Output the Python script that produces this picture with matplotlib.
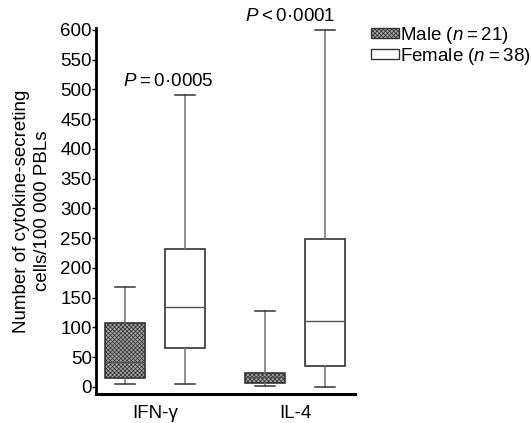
import matplotlib
matplotlib.use("Agg")
import matplotlib.pyplot as plt
from matplotlib.patches import Patch

plt.rcParams['font.family'] = ['Liberation Sans', 'DejaVu Sans']
plt.rcParams['mathtext.fontset'] = 'custom'
plt.rcParams['mathtext.rm'] = 'Liberation Sans'
plt.rcParams['mathtext.it'] = 'Liberation Sans:italic'
plt.rcParams['hatch.linewidth'] = 0.5

groups = ["IFN-γ", "IL-4"]
# whislo, q1, median, q3, whishi
male_ifn = [5, 15, 42, 108, 168]
female_ifn = [5, 66, 135, 232, 490]
male_il4 = [2, 7, 17, 23, 127]
female_il4 = [0, 35, 111, 248, 600]
pvalues = ["$\\it{P}$\u2009=\u20090·0005", "$\\it{P}$\u2009<\u20090·0001"]
legend_labels = ["Male ($\\it{n}$\u2009=\u200921)", "Female ($\\it{n}$\u2009=\u200938)"]
yticks = list(range(0, 601, 50))

FS = 13.5
fig = plt.figure(figsize=(5.31, 4.23), dpi=100)
ax = fig.add_axes([96/531, 1-394/423, (355-96)/531, (394-28)/423])

def stats(v):
    return dict(whislo=v[0], q1=v[1], med=v[2], q3=v[3], whishi=v[4], fliers=[])

pos_m = [1, 3.333]
pos_f = [2, 4.333]
w = 0.667
common = dict(showfliers=False, widths=w, patch_artist=True,
              whiskerprops=dict(color='#707070', lw=1.1),
              capprops=dict(color='#333333', lw=1.1),
              medianprops=dict(color='#555555', lw=1.0))
male_face = '#a0a0a0'
bm = ax.bxp([stats(male_ifn), stats(male_il4)], positions=pos_m,
            boxprops=dict(facecolor=male_face, edgecolor='#333333', lw=1.2),
            **common)
bf = ax.bxp([stats(female_ifn), stats(female_il4)], positions=pos_f,
            boxprops=dict(facecolor='white', edgecolor='#333333', lw=1.2),
            **common)
for p in bm['boxes']:
    p.set_hatch('xxxxxxxx')

ax.set_xlim(0.517, 4.833)
ax.set_ylim(-12, 603)
ax.set_yticks(yticks)
ax.set_yticklabels([str(t) for t in yticks], fontsize=FS)
ax.set_xticks([1.5, 3.833])
ax.set_xticklabels(groups, fontsize=FS)
ax.tick_params(axis='x', length=0, pad=8)
ax.tick_params(axis='y', length=3, width=1, pad=0, direction='out')
for s in ['top', 'right']:
    ax.spines[s].set_visible(False)
ax.spines['left'].set_linewidth(2)
ax.spines['bottom'].set_linewidth(2.2)
ax.set_ylabel("Number of cytokine-secreting\ncells/100 000 PBLs", fontsize=FS,
              labelpad=7, linespacing=1.3)

ax.text(pos_f[0] - 0.28, female_ifn[4] + 8, pvalues[0], ha='center', va='bottom', fontsize=FS)
ax.text(pos_f[1] - 0.58, female_il4[4] + 8, pvalues[1], ha='center', va='bottom', fontsize=FS)

handles = [Patch(facecolor=male_face, edgecolor='#333333', hatch='xxxxxxxx'),
           Patch(facecolor='white', edgecolor='#333333')]
fig.legend(handles, legend_labels, loc='upper left', bbox_to_anchor=(371/531, 1-25/423),
           frameon=False, fontsize=FS, handlelength=1.5, handleheight=0.45,
           handletextpad=0.05, labelspacing=0.0, borderpad=0, borderaxespad=0)

fig.savefig("out.png", dpi=100)
